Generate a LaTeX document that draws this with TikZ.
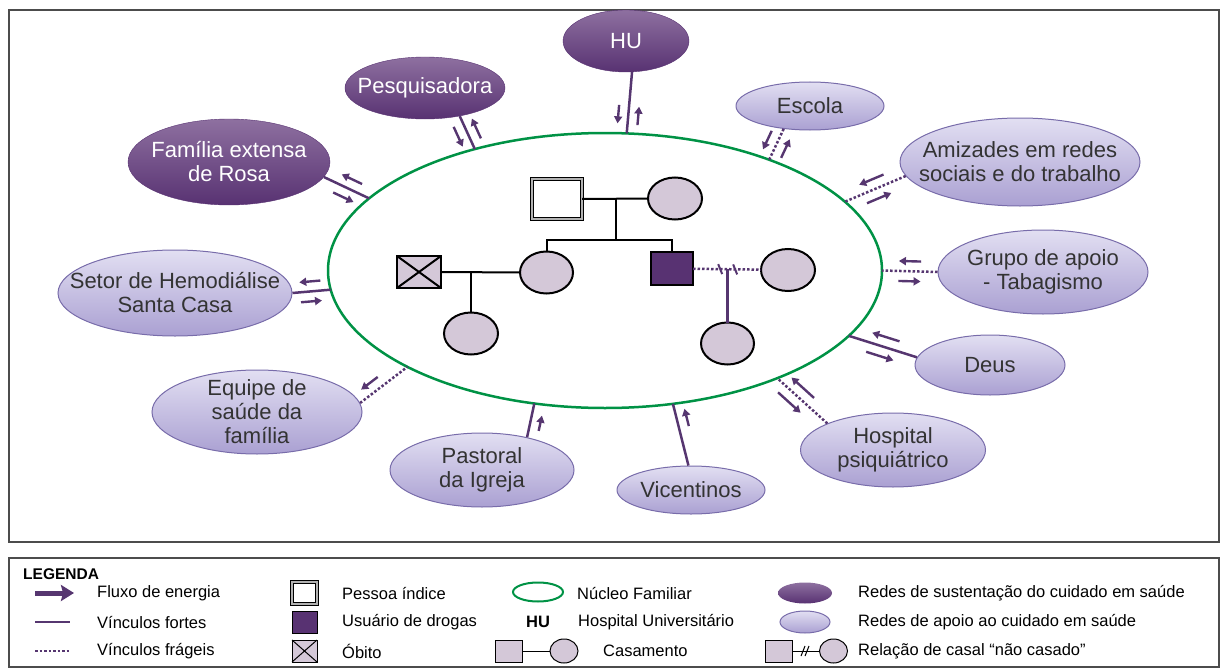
\documentclass[tikz,border=0pt]{standalone}
\usepackage{fontspec}
\setmainfont{Liberation Sans}
\usepackage{tikz}
\usetikzlibrary{arrows.meta, calc, shapes.geometric}
\definecolor{roxo}{RGB}{88,50,114}
\definecolor{roxoclaro}{RGB}{142,112,160}
\definecolor{linha}{RGB}{86,54,112}
\definecolor{lilas}{RGB}{212,200,216}
\definecolor{lavtop}{RGB}{226,223,242}
\definecolor{lavbot}{RGB}{170,160,210}
\definecolor{lavborda}{RGB}{120,108,170}
\definecolor{verde}{RGB}{0,146,69}
\tikzstyle{moldura}=[draw=black!70, line width=1.3pt]
\tikzstyle{rede}=[ellipse, inner xsep=-40pt, inner ysep=-10pt, align=center, font=\fontsize{22}{24}\selectfont]
\tikzstyle{sust}=[rede, top color=roxoclaro, bottom color=roxo, draw=roxo, text=white]
\tikzstyle{apoio}=[rede, top color=lavtop, bottom color=lavbot, draw=lavborda, line width=1pt, text=black!80]
\tikzstyle{mulher}=[ellipse, draw=black, line width=2pt, fill=lilas, inner sep=0pt, outer sep=0pt, minimum width=54pt, minimum height=42pt]
\tikzstyle{homem}=[rectangle, draw=black, line width=2pt, inner sep=0pt, outer sep=0pt]
\tikzstyle{gen}=[black, line width=2pt]
\tikzstyle{forte}=[linha, line width=2.5pt]
\tikzstyle{fragil}=[linha, line width=2.5pt, dash pattern=on 2.5pt off 2pt]
\tikzstyle{fluxo}=[linha, line width=2.4pt, -{Triangle[length=7pt, width=8pt]}]
\tikzstyle{legtxt}=[anchor=west, inner sep=0pt, font=\fontsize{16.5}{18}\selectfont]
% setas de fluxo ao lado de um vinculo
\newcommand{\fluxoentra}[2]{\draw[fluxo] ($(#1)!10pt!-90:(#2)$) -- ($(#2)!10pt!90:(#1)$);}
\newcommand{\fluxosai}[2]{\draw[fluxo] ($(#2)!10pt!-90:(#1)$) -- ($(#1)!10pt!90:(#2)$);}

\begin{document}
\begin{tikzpicture}[x=1pt, y=-1pt]
  \useasboundingbox (0,0) rectangle (1221,669);
  \draw[moldura] (9,10) rectangle (1219,542);
  \draw[moldura] (9,558) rectangle (1219,667);

  % nucleo familiar
  \node[ellipse, draw=verde, line width=2.5pt, minimum width=554pt, minimum height=275pt, inner sep=0pt, outer sep=0pt] (nuc) at (605,270.5) {};

  % genograma
  \node[homem, fill=white, minimum width=50pt, minimum height=40pt, line width=1.6pt, double=gray!60, double distance=1.6pt] (idx) at (557,199) {};
  \node[mulher] (mae) at (675,198.5) {};
  \node[mulher, minimum width=53pt] (filha) at (546.5,272.5) {};
  \node[homem, fill=roxo, minimum width=42pt, minimum height=33pt] (filho) at (672,268.5) {};
  \node[homem, fill=lilas, minimum width=44pt, minimum height=32pt] (obito) at (419,272) {};
  \node[mulher] (neta) at (471,333.5) {};
  \node[mulher] (parc) at (788,270) {};
  \node[mulher, minimum width=53pt] (bebe) at (727.5,343.5) {};
  \draw[gen] (obito.north west) -- (obito.south east) (obito.north east) -- (obito.south west);

  \coordinate (irmaos) at (616,240);
  \draw[gen] (idx) -- (mae);
  \draw[gen] (irmaos |- idx.east) -- (irmaos);
  \draw[gen] (filha.north) -- (filha.north |- irmaos) -- (filho.north |- irmaos) -- (filho.north);
  \draw[gen] (obito) -- (filha);
  \draw[gen] (obito.east -| neta.north) -- (neta.north);
  \draw[fragil] (filho) -- (parc);
  \draw[linha, line width=2pt] ($(filho.east)!.40!(parc.west)$) ++(-2,-5) -- ++(4,10);
  \draw[linha, line width=2pt] ($(filho.east)!.62!(parc.west)$) ++(-2,-5) -- ++(4,10);
  \draw[linha, line width=2.2pt] (bebe.north |- filho.east) -- (bebe.north);

  % redes
  \node[sust, minimum width=202pt, minimum height=86pt] (familia) at (229,162) {Família extensa\\de Rosa};
  \node[sust, minimum width=160pt, minimum height=62pt] (pesq) at (425,88) {Pesquisadora};
  \node[sust, minimum width=126pt, minimum height=62pt] (hu) at (626,41) {HU};
  \node[apoio, minimum width=148pt, minimum height=48pt] (escola) at (810,106) {Escola};
  \node[apoio, minimum width=240pt, minimum height=88pt] (amigos) at (1020,162) {Amizades em redes\\sociais e do trabalho};
  \node[apoio, minimum width=210pt, minimum height=84pt] (grupo) at (1043,272) {Grupo de apoio\\- Tabagismo};
  \node[apoio, minimum width=150pt, minimum height=60pt] (deus) at (990,365) {Deus};
  \node[apoio, minimum width=185pt, minimum height=74pt] (hosp) at (893,450) {Hospital\\psiquiátrico};
  \node[apoio, minimum width=148pt, minimum height=48pt] (vic) at (691,490) {Vicentinos};
  \node[apoio, minimum width=184pt, minimum height=74pt] (past) at (482,470) {Pastoral\\da Igreja};
  \node[apoio, minimum width=210pt, minimum height=84pt] (equipe) at (257,412) {Equipe de\\saúde da\\família};
  \node[apoio, minimum width=234pt, minimum height=86pt] (setor) at (175,293) {Setor de Hemodiálise\\Santa Casa};

  % vinculos
  \draw[forte] (familia.-9) -- (nuc.163) coordinate[pos=.3] (fa1) coordinate[pos=.75] (fa2);
  \fluxoentra{fa1}{fa2} \fluxosai{fa1}{fa2}
  \draw[forte] (pesq.-39) -- (nuc.137.3) coordinate[pos=.2] (pe1) coordinate[pos=.8] (pe2);
  \fluxoentra{pe1}{pe2} \fluxosai{pe1}{pe2}
  \draw[forte] (hu.-79) -- (nuc.81) coordinate[pos=.55] (hu1) coordinate[pos=.85] (hu2);
  \fluxoentra{hu1}{hu2} \fluxosai{hu1}{hu2}
  \draw[fragil] (escola.221.6) -- (nuc.34.2) coordinate[pos=.2] (es1) coordinate[pos=.8] (es2);
  \fluxoentra{es1}{es2} \fluxosai{es1}{es2}
  \draw[fragil] (amigos.187.4) -- (nuc.16.6) coordinate[pos=.3] (am1) coordinate[pos=.7] (am2);
  \fluxoentra{am1}{am2} \fluxosai{am1}{am2}
  \draw[fragil] (grupo.180) -- (nuc.0) coordinate[pos=.3] (gr1) coordinate[pos=.7] (gr2);
  \fluxoentra{gr1}{gr2} \fluxosai{gr1}{gr2}
  \draw[forte] (deus.174.6) -- (nuc.-15) coordinate[pos=.3] (de1) coordinate[pos=.7] (de2);
  \fluxoentra{de1}{de2} \fluxosai{de1}{de2}
  \draw[fragil] (hosp.158.8) -- (nuc.-32.7) coordinate[pos=.4] (ho1) coordinate[pos=.85] (ho2);
  \fluxoentra{ho1}{ho2} \fluxosai{ho1}{ho2}
  \draw[forte] (vic.96.8) -- (nuc.-63.4) coordinate[pos=.6] (vi1) coordinate[pos=.88] (vi2);
  \fluxoentra{vi1}{vi2}
  \draw[forte] (past.36) -- (nuc.242.6) coordinate[pos=.25] (pa1) coordinate[pos=.7] (pa2);
  \fluxoentra{pa1}{pa2}
  \draw[fragil] (equipe.5) -- (nuc.206.5) coordinate[pos=.15] (eq1) coordinate[pos=.5] (eq2);
  \fluxosai{eq1}{eq2}
  \draw[forte] (setor.0) -- (nuc.184.8) coordinate[pos=.2] (se1) coordinate[pos=.75] (se2);
  \fluxoentra{se1}{se2} \fluxosai{se1}{se2}

  % legenda
  \node[anchor=west, inner sep=0pt, font=\bfseries\fontsize{15.5}{17}\selectfont] (legenda) at (23,574) {LEGENDA};
  \draw[linha, line width=5pt, -{Stealth[length=13pt, width=16pt, inset=2pt]}] (35,593) -- (74,593);
  \draw[forte] (35,622) -- (70,622);
  \draw[fragil, line width=2pt] (35,651) -- (70,651);
  \node[legtxt] (lfluxo) at (97,593) {Fluxo de energia};
  \node[legtxt] (lforte) at (97,622) {Vínculos fortes};
  \node[legtxt] (lfragil) at (97,651) {Vínculos frágeis};

  \node[homem, fill=white, minimum width=25pt, minimum height=22pt, line width=1.1pt, double=gray!60, double distance=1.1pt] (lidx) at (304.5,593) {};
  \node[homem, fill=roxo, minimum width=25pt, minimum height=22pt, line width=1pt] (lusu) at (304.5,622) {};
  \node[homem, fill=lilas, minimum width=25pt, minimum height=22pt, line width=1pt] (lobi) at (304.5,651) {};
  \draw[black, line width=1pt] (lobi.north west) -- (lobi.south east) (lobi.north east) -- (lobi.south west);
  \node[legtxt] (tidx) at (342,593) {Pessoa índice};
  \node[legtxt] (tusu) at (342,622) {Usuário de drogas};
  \node[legtxt] (tobi) at (342,651) {Óbito};

  \node[ellipse, draw=verde, line width=2pt, minimum width=50pt, minimum height=19pt, inner sep=0pt] (lnuc) at (538,592) {};
  \node[font=\bfseries\fontsize{16.5}{18}\selectfont, inner sep=0pt] (lhu) at (538,622) {HU};
  \node[homem, fill=lilas, minimum width=27pt, minimum height=22pt, line width=1pt] (lcas1) at (508.5,651) {};
  \node[mulher, line width=1pt, minimum width=28pt, minimum height=24pt] (lcas2) at (564,651) {};
  \draw[black, line width=1pt] (lcas1) -- (lcas2);
  \node[legtxt] (tnuc) at (577,593) {Núcleo Familiar};
  \node[legtxt] (thu) at (578,622) {Hospital Universitário};
  \node[legtxt] (tcas) at (603,651) {Casamento};

  \node[sust, minimum width=54pt, minimum height=21pt, draw=none] (lsust) at (805,593) {};
  \node[apoio, minimum width=50pt, minimum height=22pt] (lapoio) at (805,622) {};
  \node[homem, fill=lilas, minimum width=27pt, minimum height=22pt, line width=1pt] (lpar1) at (778.5,651) {};
  \node[mulher, line width=1pt, minimum width=28pt, minimum height=24pt] (lpar2) at (833.5,651) {};
  \draw[black, line width=1pt] (lpar1) -- (lpar2);
  \draw[black, line width=1pt] (801,656) -- (805,646) (805,656) -- (809,646);
  \node[legtxt] (tsust) at (858,593) {Redes de sustentação do cuidado em saúde};
  \node[legtxt] (tapoio) at (858,622) {Redes de apoio ao cuidado em saúde};
  \node[legtxt] (tpar) at (858,651) {Relação de casal “não casado”};
\end{tikzpicture}
\end{document}
